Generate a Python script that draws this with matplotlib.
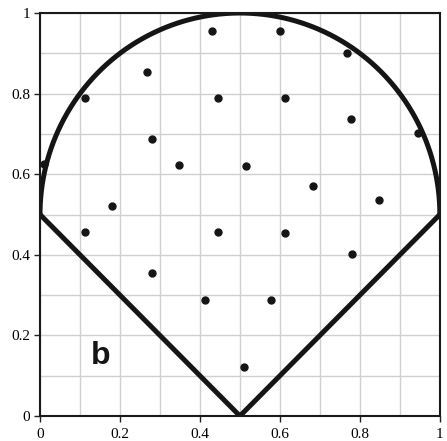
import numpy as np
import matplotlib.pyplot as plt

# sample points inside the region
px = [0.43, 0.60, 0.2675, 0.1125, 0.445, 0.28, 0.3475, 0.18, 0.01, 0.7675,
      0.6125, 0.779, 0.945, 0.515, 0.682, 0.849, 0.1125, 0.446, 0.279, 0.412,
      0.613, 0.78, 0.5775, 0.511]
py = [0.955, 0.955, 0.853, 0.789, 0.789, 0.687, 0.622, 0.52, 0.625, 0.902,
      0.788, 0.736, 0.702, 0.621, 0.57, 0.536, 0.456, 0.456, 0.355, 0.289,
      0.454, 0.403, 0.288, 0.122]

# boundary: half circle on top, V below
cx, cy, r = 0.5, 0.5, 0.5
vx = [0.0, 0.5, 1.0]
vy = [0.5, 0.0, 0.5]
ticks = [0, 0.2, 0.4, 0.6, 0.8, 1]
tick_labels = ['0', '0.2', '0.4', '0.6', '0.8', '1']

fig = plt.figure(figsize=(4.47, 4.41), dpi=100)
ax = fig.add_axes([0.0895, 0.0567, 0.8945, 0.9138])

ax.set_xlim(0, 1)
ax.set_ylim(0, 1)
ax.set_xticks(np.arange(0, 1.01, 0.1), minor=True)
ax.set_yticks(np.arange(0, 1.01, 0.1), minor=True)
ax.set_xticks(ticks)
ax.set_yticks(ticks)
ax.set_xticklabels(tick_labels, fontfamily='Liberation Serif', fontsize=11)
ax.set_yticklabels(tick_labels, fontfamily='Liberation Serif', fontsize=11)
ax.tick_params(which='major', length=4, width=1, color='#222222', pad=3)
ax.tick_params(axis='x', which='major', pad=5)
ax.tick_params(which='minor', length=0)
ax.grid(True, which='both', color='#d0d0d0', linewidth=1)
ax.set_axisbelow(True)
for s in ax.spines.values():
    s.set_linewidth(1.5)
    s.set_color('#1a1a1a')

t = np.linspace(0, np.pi, 300)
ax.plot(cx + r * np.cos(t), cy + r * np.sin(t), color='#151515', lw=3.6,
        solid_capstyle='butt')
ax.plot(vx, vy, color='#151515', lw=3.6, solid_joinstyle='miter')

ax.plot(px, py, 'o', color='#151515', markersize=5, linestyle='none')

ax.text(0.153, 0.148, 'b', fontsize=23, fontweight='bold', fontfamily='Liberation Sans',
        ha='center', va='center', color='#151515')

fig.savefig('out.png', dpi=100)
